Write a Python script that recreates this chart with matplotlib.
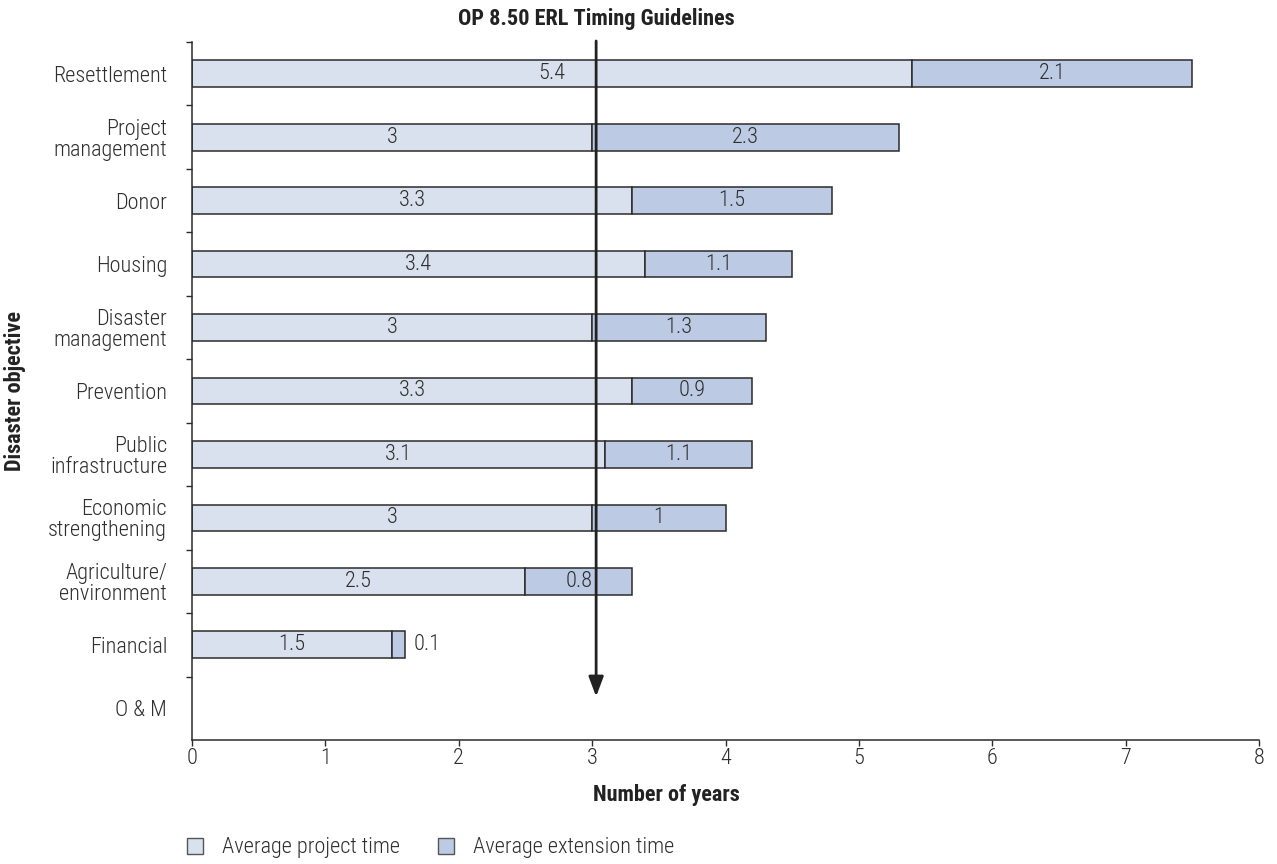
import matplotlib
matplotlib.use("Agg")
import matplotlib.pyplot as plt
from matplotlib import font_manager
from matplotlib.patches import Patch

# ---- font choice: prefer a condensed face ----
entries = font_manager.fontManager.ttflist
names = {f.name for f in entries}
fam, stretch, condensed = 'Roboto', 'normal', False
for cand in ['Roboto Condensed', 'Liberation Sans Narrow', 'Open Sans Condensed', 'DejaVu Sans Condensed']:
    if cand in names:
        fam, condensed = cand, True
        break
if not condensed:
    for cand in ['Roboto', 'Noto Sans', 'Open Sans', 'Inter']:
        if any(f.name == cand and str(f.stretch) in ('condensed', 'semi-condensed', '75', '87.5') for f in entries):
            fam, stretch, condensed = cand, 'condensed', True
            break
plt.rcParams['font.family'] = [fam, 'DejaVu Sans']
plt.rcParams['font.stretch'] = stretch
FS = 16 if condensed else 14
LW = 'light'

categories = ["Resettlement", "Project\nmanagement", "Donor", "Housing", "Disaster\nmanagement",
              "Prevention", "Public\ninfrastructure", "Economic\nstrengthening",
              "Agriculture/\nenvironment", "Financial", "O & M"]
project_time = [5.4, 3, 3.3, 3.4, 3, 3.3, 3.1, 3, 2.5, 1.5, None]
extension_time = [2.1, 2.3, 1.5, 1.1, 1.3, 0.9, 1.1, 1, 0.8, 0.1, None]
guideline_years = 3.03

c_proj = "#DAE1EE"
c_ext = "#BCCBE3"
edge = "#2b2b2b"
txt = "#2e2e2e"

fig = plt.figure(figsize=(12.77, 8.64), dpi=100)
ax = fig.add_axes([192/1277, 1-740/864, (1259-192)/1277, (740-42)/864])

ypos = list(range(len(categories)))
for i, (p, e) in enumerate(zip(project_time, extension_time)):
    if p is None:
        continue
    ax.barh(i, p, height=0.42, color=c_proj, edgecolor=edge, linewidth=1.1)
    ax.barh(i, e, left=p, height=0.42, color=c_ext, edgecolor=edge, linewidth=1.1)
    ax.text(p/2, i, f"{p:g}", ha='center', va='center', fontsize=FS, color=txt, fontweight=LW)
    if e >= 0.3:
        ax.text(p + e/2, i, f"{e:g}", ha='center', va='center', fontsize=FS, color=txt, fontweight=LW)
    else:
        ax.text(p + e + 0.06, i, f"{e:g}", ha='left', va='center', fontsize=FS, color=txt, fontweight=LW)

ax.set_xlim(0, 8)
ax.set_ylim(len(categories) - 0.5, -0.5)
ax.set_xticks(range(0, 9))
ax.set_xticklabels([str(v) for v in range(0, 9)], fontsize=FS, color=txt, fontweight=LW)
ax.tick_params(axis='x', direction='out', length=4, width=1, colors=edge, labelcolor=txt, pad=2)
ax.set_yticks(ypos)
ax.set_yticklabels(categories, fontsize=FS, color=txt, linespacing=1.0, fontweight=LW)
ax.tick_params(axis='y', which='major', length=0, pad=18)
ax.set_yticks([i - 0.5 for i in range(len(categories))], minor=True)
ax.tick_params(axis='y', which='minor', length=4, width=1, direction='out', colors=edge)
for s in ['top', 'right']:
    ax.spines[s].set_visible(False)
for s in ['left', 'bottom']:
    ax.spines[s].set_color(edge)
    ax.spines[s].set_linewidth(1.1)

fig.text(666/1277, 1-795/864, "Number of years", ha='center', va='center',
         fontsize=FS, fontweight='bold', color='#222222')
fig.text(15/1277, 1-391/864, "Disaster objective", rotation=90, ha='center', va='center',
         fontsize=FS, fontweight='bold', color='#222222')

ax.annotate('', xy=(guideline_years, 9.86), xytext=(guideline_years, -0.56),
            arrowprops=dict(arrowstyle='-|>,head_length=1.2,head_width=0.45', color='#222222', lw=2),
            annotation_clip=False)
fig.text(596/1277, 1-19/864, "OP 8.50 ERL Timing Guidelines", ha='center', va='center',
         fontsize=FS, fontweight='bold', color='#222222')

handles = [Patch(facecolor=c_proj, edgecolor='#555555', label="Average project time"),
           Patch(facecolor=c_ext, edgecolor='#555555', label="Average extension time")]
leg = fig.legend(handles=handles, loc='center left', bbox_to_anchor=(187/1277, 1-848/864), ncol=2,
                 frameon=False, fontsize=FS, handlelength=0.72, handleheight=0.72, columnspacing=1.7,
                 handletextpad=0.85, labelcolor=txt, borderaxespad=0, borderpad=0)
for t in leg.get_texts():
    t.set_fontweight(LW)

fig.savefig("out.png", dpi=100)
